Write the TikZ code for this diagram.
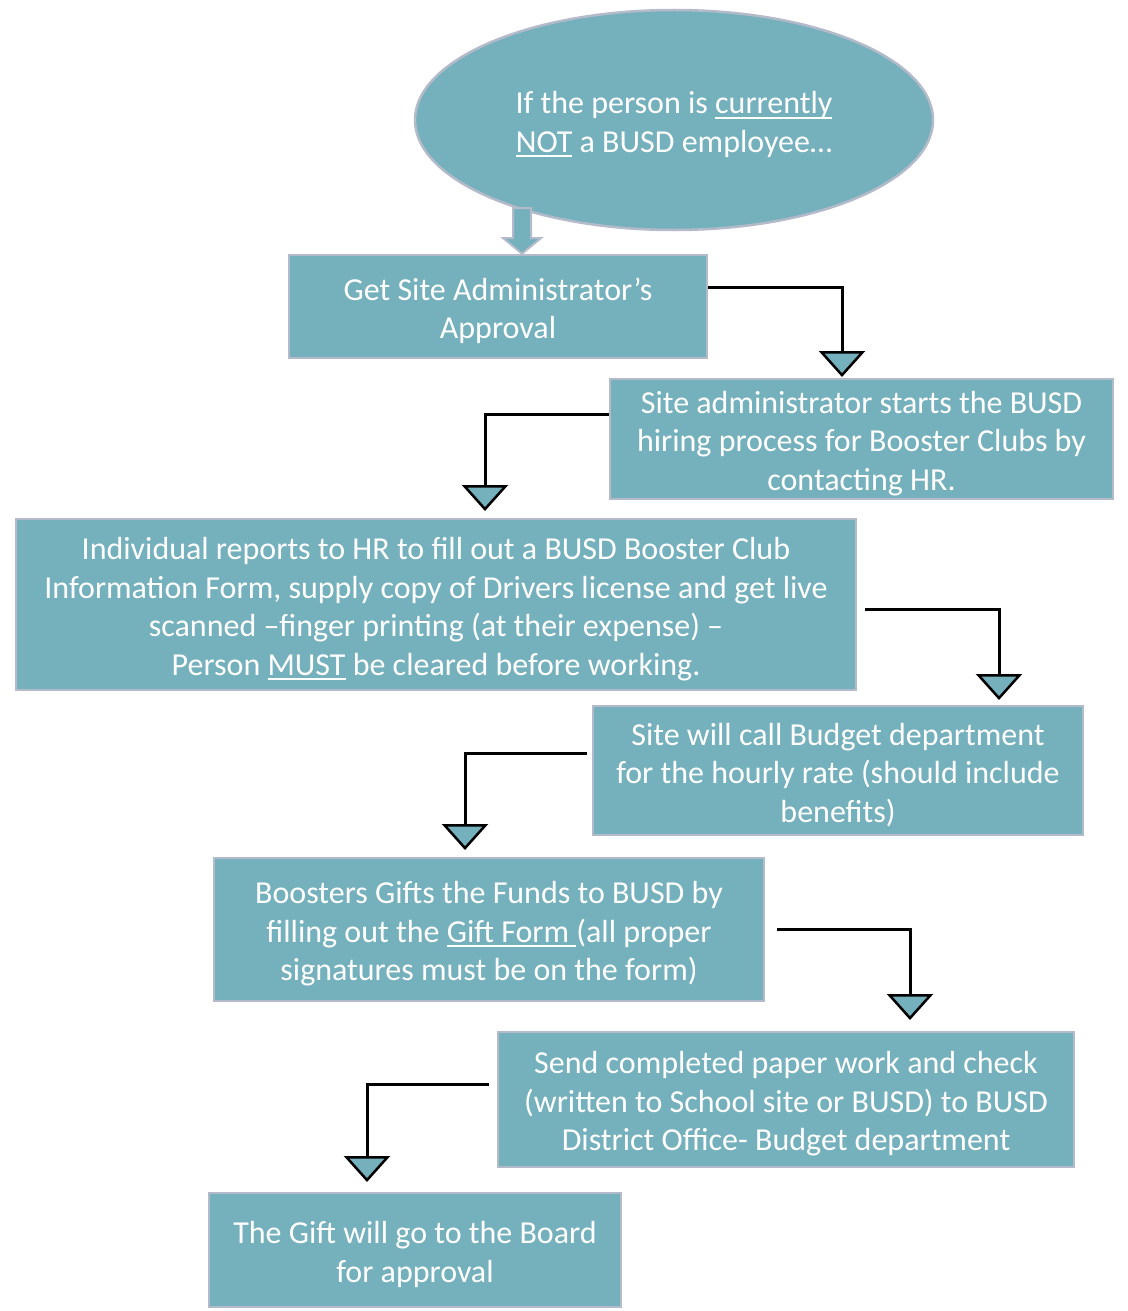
\documentclass[tikz,border=0pt]{standalone}
\usepackage{fontspec}
\setmainfont{Carlito}
\usetikzlibrary{shapes.geometric,arrows.meta}
\definecolor{teal1}{HTML}{75B0BD}
\definecolor{rim}{HTML}{B3BACA}
\newsavebox\ulbox
\newcommand\ulx[1]{\leavevmode\sbox\ulbox{#1}\rlap{\rule[-5pt]{\wd\ulbox}{2pt}}\usebox\ulbox}
\newcommand\tp{\rule{0pt}{31pt}}
\tikzset{
  box/.style={rectangle, fill=teal1, draw=rim, line width=2.5pt, text=white, align=center, inner sep=0pt,
    font=\fontsize{32}{38.5}\selectfont},
  oval/.style={ellipse, fill=teal1, draw=rim, line width=2.5pt, text=white, align=center, inner sep=0pt,
    font=\fontsize{32}{38.5}\selectfont},
  conn/.style={draw=black, line width=3pt, -{Triangle[width=46pt,length=26pt,fill=teal1,line width=2.5pt]}},
}
\begin{document}
\begin{tikzpicture}[x=1pt,y=-1pt]
\useasboundingbox[fill=white] (0,0) rectangle (1127,1311);

\node[oval, minimum width=518pt, minimum height=220pt] (e) at (674,120)
  {\tp If the person is \ulx{currently}\\\ulx{NOT} a BUSD employee…};

\node[box, minimum width=418pt, minimum height=103pt] (b1) at (498,306.5)
  {\tp Get Site Administrator’s\\Approval};
\node[box, minimum width=503pt, minimum height=120pt] (b2) at (861.5,439)
  {\tp Site administrator starts the BUSD\\hiring process for Booster Clubs by\\contacting HR.};
\node[box, minimum width=840pt, minimum height=171pt] (b3) at (436,604.5)
  {\tp Individual reports to HR to fill out a BUSD Booster Club\\Information Form, supply copy of Drivers license and get live\\scanned –finger printing (at their expense) –\\Person \ulx{MUST} be cleared before working.};
\node[box, minimum width=490pt, minimum height=129pt] (b4) at (838,770.5)
  {\tp Site will call Budget department\\for the hourly rate (should include\\benefits)};
\node[box, minimum width=550pt, minimum height=143pt] (b5) at (489,929.5)
  {\tp Boosters Gifts the Funds to BUSD by\\filling out the \ulx{Gift Form }(all proper\\signatures must be on the form)};
\node[box, minimum width=576pt, minimum height=135pt] (b6) at (786,1099.5)
  {\tp Send completed paper work and check\\(written to School site or BUSD) to BUSD\\District Office- Budget department};
\node[box, minimum width=412pt, minimum height=114pt] (b7) at (415,1250)
  {\tp The Gift will go to the Board\\for approval};

% block arrow from ellipse to first box
\coordinate (ba) at (522,208);
\draw[fill=teal1, draw=rim, line width=2pt]
  ([xshift=-9pt]ba) -- ([xshift=-9pt]ba |- 0,238) -- (503,238) -- (b1.north -| ba) -- (541,238)
  -- ([xshift=9pt]ba |- 0,238) -- ([xshift=9pt]ba) -- cycle;

\coordinate (t1) at (842,377);
\coordinate (t2) at (485,511);
\coordinate (t3) at (999,700);
\coordinate (t4) at (465,850);
\coordinate (t5) at (910,1020);
\coordinate (t6) at (367,1182);

\draw[conn] ([yshift=19.5pt]b1.east) -| (t1);
\draw[conn] ([yshift=25pt]b2.west) -| (t2);
\draw[conn] ([xshift=8pt,yshift=-4.5pt]b3.east) -| (t3);
\draw[conn] ([xshift=-5pt,yshift=17.5pt]b4.west) -| (t4);
\draw[conn] ([xshift=12pt]b5.east) -| (t5);
\draw[conn] ([xshift=-8pt,yshift=15.5pt]b6.west) -| (t6);
\end{tikzpicture}
\end{document}
